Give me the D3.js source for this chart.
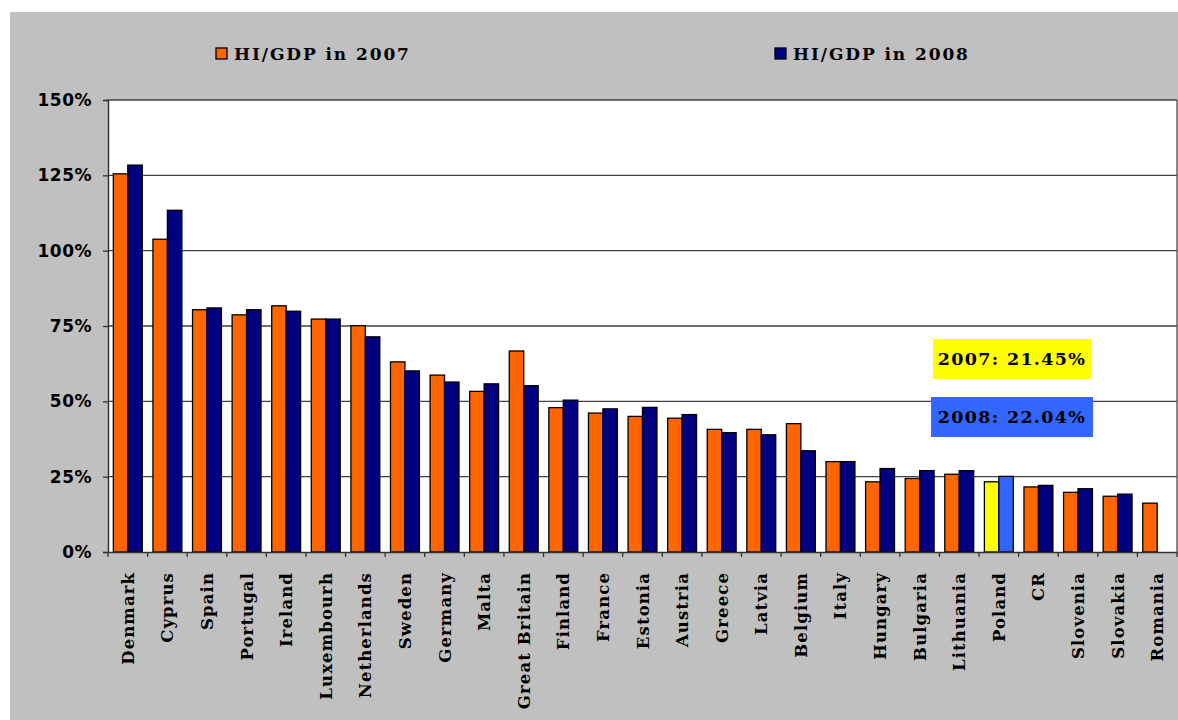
<!DOCTYPE html>
<html><head><meta charset="utf-8">
<script src="https://cdn.jsdelivr.net/npm/d3@7/dist/d3.min.js"></script>
<style>body{margin:0;background:#fff;} svg{display:block;} text{font-family:"DejaVu Serif",serif;font-weight:bold;}</style>
</head><body>
<svg id="c" width="1178" height="720"></svg>
<script>
const countries = ["Denmark","Cyprus","Spain","Portugal","Ireland","Luxembourh","Netherlands","Sweden","Germany","Malta","Great Britain","Finland","France","Estonia","Austria","Greece","Latvia","Belgium","Italy","Hungary","Bulgaria","Lithuania","Poland","CR","Slovenia","Slovakia","Romania"];
const hi2007 = [125.5,103.8,80.4,78.7,81.7,77.3,75.1,63.1,58.7,53.3,66.7,47.9,46.1,45.0,44.4,40.7,40.7,42.6,30.0,23.3,24.4,25.8,23.3,21.6,19.8,18.5,16.2];
const hi2008 = [128.4,113.4,81.0,80.4,79.9,77.3,71.4,60.1,56.4,55.8,55.2,50.4,47.5,48.0,45.6,39.6,38.9,33.6,30.0,27.7,27.0,27.0,25.1,22.1,21.0,19.2,null];
const seriesNames = ["HI/GDP in 2007","HI/GDP in 2008"];
const yTicks = [0,25,50,75,100,125,150];
const notes = ["2007: 21.45%","2008: 22.04%"];
const highlight = "Poland";

(function(){
const svg = d3.select("#c");
const colors = ["#ff6600","#000080"];
const hlColors = ["#ffff00","#3366ff"];
const L = 108, R = 1177, T = 100, B = 552;

svg.append("rect").attr("x",10).attr("y",12).attr("width",1168).attr("height",708).attr("fill","#c0c0c0");
svg.append("rect").attr("x",L).attr("y",T).attr("width",R-L).attr("height",B-T).attr("fill","#fff");

const x = d3.scaleBand().domain(countries).range([L,R]).paddingInner(0.27).paddingOuter(0.135);
const xs = d3.scaleBand().domain([0,1]).range([0,x.bandwidth()]);
const y = d3.scaleLinear().domain([0,150]).range([B,T]);

svg.append("g").selectAll("line").data(yTicks.filter(d=>d>0)).join("line")
  .attr("x1",L).attr("x2",R).attr("y1",d=>y(d)).attr("y2",d=>y(d))
  .attr("stroke","#404040").attr("stroke-width",1.3);
svg.append("line").attr("x1",R).attr("x2",R).attr("y1",T).attr("y2",B).attr("stroke","#555").attr("stroke-width",1.3);

const g = svg.append("g");
countries.forEach((c,i)=>{
  [hi2007[i],hi2008[i]].forEach((v,s)=>{
    if(v==null) return;
    g.append("rect").attr("x",x(c)+xs(s)).attr("width",xs.bandwidth())
     .attr("y",y(v)).attr("height",y(0)-y(v))
     .attr("fill", c===highlight ? hlColors[s] : colors[s])
     .attr("stroke","#000").attr("stroke-width",1.3);
  });
});

const ya = svg.append("g").attr("transform",`translate(${L},0)`)
  .call(d3.axisLeft(y).tickValues(yTicks).tickSize(5).tickPadding(11).tickFormat(d=>d+"%"));
ya.select(".domain").attr("stroke","#333").attr("stroke-width",1.5);
ya.selectAll(".tick line").attr("stroke","#333").attr("stroke-width",1.3);
ya.selectAll("text").attr("font-size",17).attr("fill","#000").attr("letter-spacing",0.5).style("font-family","'DejaVu Sans',sans-serif").style("font-weight","bold");

const xa = svg.append("g").attr("transform",`translate(0,${B})`)
  .call(d3.axisBottom(x).tickSize(0).tickFormat(""));
xa.select(".domain").attr("stroke","#333").attr("stroke-width",1.5);
const step = x.step();
svg.append("g").selectAll("line").data(d3.range(countries.length+1)).join("line")
  .attr("x1",d=>L+d*step).attr("x2",d=>L+d*step).attr("y1",B).attr("y2",B+5)
  .attr("stroke","#333").attr("stroke-width",1.3);
svg.append("g").selectAll("text").data(countries).join("text")
  .attr("transform",d=>`translate(${x(d)+x.bandwidth()/2+6},${572}) rotate(-90)`)
  .attr("text-anchor","end").attr("font-size",16.5).attr("letter-spacing",1.1).attr("fill","#000").text(d=>d);

const legX = [216,775];
seriesNames.forEach((n,i)=>{
  svg.append("rect").attr("x",legX[i]).attr("y",48).attr("width",11).attr("height",11)
    .attr("fill",colors[i]).attr("stroke","#000").attr("stroke-width",1.3);
  svg.append("text").attr("x",legX[i]+18).attr("y",60).attr("font-size",17).attr("letter-spacing",1.9).attr("fill","#000").text(n);
});

const boxes = [{x:933,y:339,w:158,h:40},{x:931,y:397,w:162,h:40}];
notes.forEach((t,i)=>{
  const b = boxes[i];
  svg.append("rect").attr("x",b.x).attr("y",b.y).attr("width",b.w).attr("height",b.h).attr("fill",hlColors[i]);
  svg.append("text").attr("x",b.x+b.w/2).attr("y",b.y+b.h/2+6).attr("text-anchor","middle").attr("font-size",17.5).attr("letter-spacing",1.3).attr("fill","#000").text(t);
});
})();
</script>
</body></html>
